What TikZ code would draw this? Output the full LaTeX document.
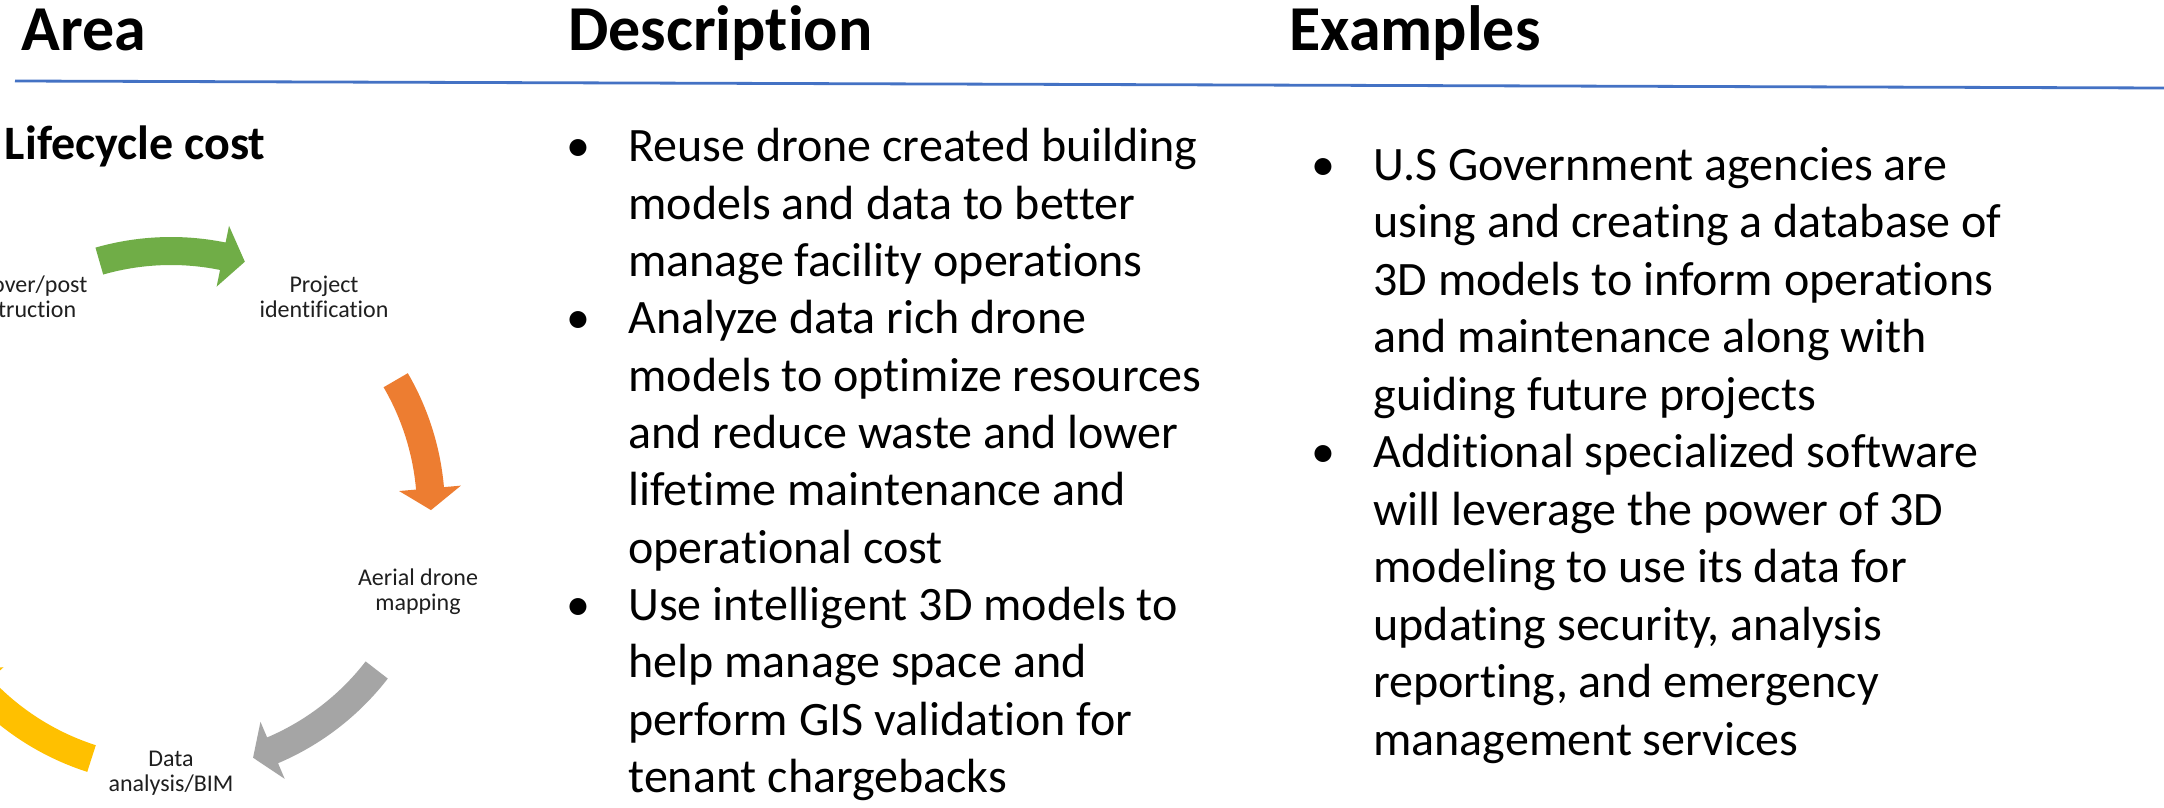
\documentclass[tikz,border=0pt]{standalone}
\usepackage{fontspec}
\setmainfont{Carlito}[Ligatures={CommonOff,ContextualOff}]
\definecolor{hdrblue}{HTML}{4472C4}
\definecolor{cgreen}{HTML}{70AD47}
\definecolor{corange}{HTML}{ED7D31}
\definecolor{cgray}{HTML}{A5A5A5}
\definecolor{cyellow}{HTML}{FFC000}
\newcommand\cyclearrow[4]{%
  \fill[#1] plot[domain=#2:#3, samples=30] ({171+274*cos(\x)},{511-274*sin(\x)})
    -- ({171+291*cos(#3)},{511-291*sin(#3)})
    -- ({171+260*cos(#4)},{511-260*sin(#4)})
    -- ({171+229*cos(#3)},{511-229*sin(#3)})
    -- plot[domain=#3:#2, samples=30] ({171+246*cos(\x)},{511-246*sin(\x)})
    -- cycle;}
\tikzset{
  hdr/.style={anchor=base west, inner sep=0pt, font=\fontsize{32}{38}\selectfont\bfseries},
  body/.style={anchor=base west, inner sep=0pt, font=\fontsize{24}{28.6}\selectfont},
  bul/.style={anchor=base, inner sep=0pt, font=\fontsize{24}{28.6}\selectfont},
  lbl/.style={anchor=base, inner sep=0pt, text=black!88, font=\fontsize{12}{12.5}\selectfont},
}
\begin{document}
\begin{tikzpicture}[x=0.5pt,y=-0.5pt]
\useasboundingbox (0,0) rectangle (2164,808);
\clip (0,0) rectangle (2164,808);
\fill[white] (0,0) rectangle (2164,808);
% headers
\node[hdr] (area) at (21,51) {Area};
\node[hdr] (desc) at (568,51) {Description};
\node[hdr] (exam) at (1289,51) {Examples};
\coordinate (l0) at (15,81);
\coordinate (l1) at (2164,88);
\draw[hdrblue, line width=1.4pt] (l0) -- (l1);
% area column
\node[anchor=base west, inner sep=0pt, font=\fontsize{24}{29}\selectfont\bfseries] (lc) at (4.5,160) {Lifecycle cost};
\cyclearrow{cgreen}{106}{78.5}{73.5}
\cyclearrow{corange}{30.2}{5}{0.2}
\cyclearrow{cgray}{-37.7}{-67}{-71.6}
\cyclearrow{cyellow}{-107.8}{-137}{-142}
\node[lbl] (pi1) at (324,292) {Project};
\node[lbl] (pi2) at (324,317) {identification};
\node[lbl] (ho1) at (14,292) {Handover/post};
\node[lbl] (ho2) at (15,317) {construction};
\node[lbl] (ad1) at (418,585) {Aerial drone};
\node[lbl] (ad2) at (418,610) {mapping};
\node[lbl] (da1) at (171,766) {Data};
\node[lbl] (da2) at (171,791) {analysis/BIM};
% description column
\foreach \t [count=\i] in {Reuse drone created building, models and data to better, manage facility operations, Analyze data rich drone, models to optimize resources, and reduce waste and lower, lifetime maintenance and, operational cost, Use intelligent 3D models to, help manage space and, perform GIS validation for, tenant chargebacks}
  \node[body] (d\i) at (628,{162+57.3*(\i-1)}) {\t};
\foreach \i in {1,4,9}
  \node[bul] (db\i) at (578,{162+57.3*(\i-1)}) {\textbullet};
% examples column
\foreach \t [count=\i] in {U.S Government agencies are, using and creating a database of, 3D models to inform operations, and maintenance along with, guiding future projects, Additional specialized software, will leverage the power of 3D, modeling to use its data for, {updating security, analysis}, {reporting, and emergency}, management services}
  \node[body] (e\i) at (1373,{180+57.5*(\i-1)}) {\t};
\foreach \i in {1,6}
  \node[bul] (eb\i) at (1323,{180+57.5*(\i-1)}) {\textbullet};
\end{tikzpicture}
\end{document}
